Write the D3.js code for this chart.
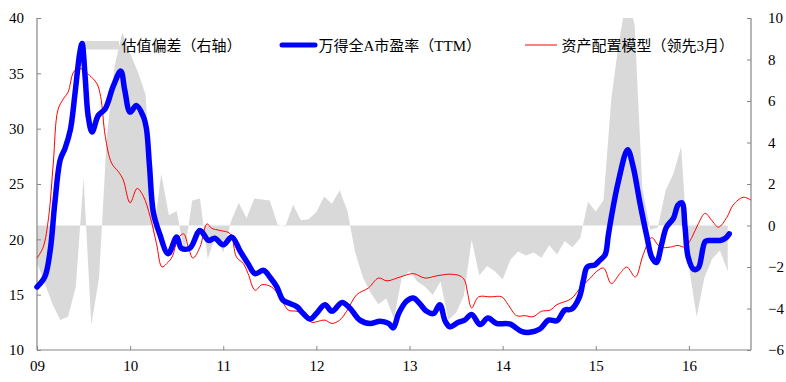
<!DOCTYPE html>
<html>
<head>
<meta charset="utf-8">
<script src="https://cdn.jsdelivr.net/npm/d3@7"></script>
<style>
html,body{margin:0;padding:0;background:#fff;}
svg{display:block;}
.ax text{font-family:"Liberation Serif","Times New Roman",serif !important;font-size:15px !important;fill:#000;}
.lg text{font-family:"Liberation Serif","Noto Sans CJK SC",sans-serif;font-size:15px;fill:#000;}
</style>
</head>
<body>
<svg id="chart" width="786" height="382"></svg>
<script>
// ---- data ----
const yearLabels = ["09","10","11","12","13","14","15","16"];
const leftTicks = [10,15,20,25,30,35,40];
const rightTicks = [-6,-4,-2,0,2,4,6,8,10];
const legendLabels = ["估值偏差（右轴）","万得全A市盈率（TTM）","资产配置模型（领先3月）"];

// monthly valuation deviation (right axis), month 0 = Jan 2009
const biasValues = [
 -1.8,-2.8,-3.8,-4.55,-4.4,-2.95,2.3,-4.8,-2.5,4.3,
 7.7,9.3,8.3,7.4,6.3,-0.5,2.5,0.5,0.7,-1.3,
 1.2,1.3,-1.6,-0.5,-1.3,0.2,1.1,0.35,1.3,1.25,
 1.2,0.05,-0.05,1.0,0.25,0.3,0.65,1.4,1.05,1.7,
 0.7,-1.3,-2.5,-3.25,-3.8,-3.5,-4.5,-2.5,-2.2,-2.7,
 -2.95,-3.35,-2.7,-4.55,-4.2,-3.4,-0.7,-2.4,-1.95,-2.2,
 -2.6,-1.65,-1.25,-1.45,-1.3,-1.55,-0.95,-1.4,-0.75,-1.05,
 -0.6,1.15,0.67,1.23,6.1,8.9,11,9.7,1.8,-0.2,
 -0.1,1.7,2.5,3.8,-2.0,-4.4,-2.5,-1.6,-1.2,-2.2
];

// Wind All A PE (TTM), left axis
const peMonths = [0.0,1.0,1.7,2.3,3.0,3.6,4.3,4.9,5.5,5.8,6.2,6.6,7.1,7.9,8.8,9.8,10.8,11.3,12.0,12.8,13.7,14.1,14.5,15.0,15.8,16.9,18.0,18.6,19.7,21.0,22.1,22.9,24.0,25.1,26.2,27.2,28.1,29.2,30.0,30.9,31.7,32.6,33.5,34.3,35.2,36.0,37.1,38.0,39.3,40.3,41.6,42.9,44.2,45.3,45.9,46.6,47.6,48.5,49.3,50.2,51.1,51.9,52.6,53.2,54.3,55.1,56.0,57.1,58.1,59.2,60.9,62.5,63.5,64.8,65.9,67.0,68.0,68.9,69.9,70.4,70.9,71.9,72.5,73.2,73.6,74.0,74.9,76.1,76.8,77.7,78.6,79.2,79.8,80.5,81.1,82.0,82.6,83.1,83.5,83.9,84.6,85.2,86.1,86.7,88.0,88.7,89.2];
const peValues = [15.7,16.6,19.0,23.3,27.2,28.2,29.9,33.2,36.8,37.7,34.7,31.1,29.7,31.2,31.8,33.8,35.2,33.5,31.5,32.1,31.1,30.0,26.6,22.4,20.5,18.7,20.2,19.2,19.2,20.8,19.9,20.1,19.5,20.2,18.9,17.8,16.9,17.2,16.6,15.7,14.5,14.2,13.9,13.3,12.8,13.3,14.1,13.5,14.3,13.8,12.7,12.4,12.6,12.4,12.0,13.3,14.4,14.7,14.2,13.5,13.3,14.1,12.6,12.1,12.5,12.7,13.2,12.3,12.9,12.4,12.35,11.65,11.6,11.9,12.7,12.65,13.6,13.7,14.8,16.3,17.5,17.7,18.1,18.6,20.3,22.0,25.2,28.1,26.6,23.25,20.2,18.4,17.9,19.6,21.1,21.9,23.1,23.3,21.1,18.4,17.3,17.4,19.8,19.9,19.9,20.1,20.5];

// asset allocation model (lead 3 months), left axis
const modelMonths = [0.0,0.8,1.5,2.1,2.7,3.4,4.0,4.7,5.3,6.0,6.8,7.7,8.2,8.8,9.6,10.5,11.1,12.0,12.9,13.7,14.6,15.4,16.1,16.7,17.4,18.2,18.9,19.5,20.1,21.0,21.9,22.5,23.6,24.9,25.7,26.6,27.2,28.1,29.0,30.2,31.3,32.4,33.5,34.3,35.4,36.0,37.1,38.0,39.0,39.9,41.2,42.7,44.0,45.1,46.8,48.5,50.0,51.5,53.2,54.5,55.1,55.5,56.0,56.9,58.4,59.9,60.7,61.8,62.9,63.9,65.0,66.1,67.0,68.5,69.1,70.0,71.3,72.1,73.0,74.0,75.1,76.0,77.1,78.1,79.2,80.3,81.6,82.6,83.5,84.4,85.2,86.1,86.9,87.8,88.9,89.7,91.0,92.0];
const modelValues = [18.3,19.3,22.0,26.9,31.7,32.7,33.3,35.1,35.45,35.3,34.8,34.1,32.9,29.3,26.9,26.1,25.4,23.3,24.6,23.9,22.0,19.6,17.5,17.8,18.4,20.1,20.5,19.3,18.3,19.3,21.4,21.0,20.8,20.5,18.4,17.8,16.9,15.4,15.9,15.7,14.8,13.6,13.5,13.2,12.5,12.55,12.7,12.4,12.7,13.5,15.0,15.6,16.5,16.25,16.6,16.9,16.5,16.7,16.85,16.7,16.3,15.1,13.8,14.8,14.8,14.8,14.1,13.1,13.1,13.0,13.5,13.6,14.1,14.5,14.8,15.6,16.5,17.1,17.4,16.0,16.9,17.5,16.6,18.6,20.15,19.3,19.3,19.45,19.3,20.2,21.4,22.35,21.75,21.1,22.0,23.1,23.8,23.55];

// ---- layout ----
const L = 37, R = 751, T = 18, B = 350;
const svg = d3.select("#chart");
const axisColor = "#868686";

const x = d3.scaleLinear().domain([0, 92]).range([L, R]);
const yL = d3.scaleLinear().domain([10, 40]).range([B, T]);
const yR = d3.scaleLinear().domain([-6, 10]).range([B, T]);

svg.append("defs").append("clipPath").attr("id","plot")
  .append("rect").attr("x",L).attr("y",T).attr("width",R-L).attr("height",B-T);

// gray deviation area
const biasData = biasValues.map((v,i)=>({m:i,v:v}));
svg.append("path").datum(biasData)
  .attr("clip-path","url(#plot)")
  .attr("fill","#d9d9d9")
  .attr("d", d3.area().x(d=>x(d.m)).y0(yR(0)).y1(d=>yR(d.v)).curve(d3.curveLinear));

// axes
const gL = svg.append("g").attr("class","ax").attr("transform",`translate(${L},0)`)
  .call(d3.axisLeft(yL).tickValues(leftTicks).tickSize(-4).tickPadding(13).tickFormat(d3.format("d")));
const gR = svg.append("g").attr("class","ax").attr("transform",`translate(${R},0)`)
  .call(d3.axisRight(yR).tickValues(rightTicks).tickSize(-4).tickPadding(17).tickFormat(d3.format("d")));
const gB = svg.append("g").attr("class","ax").attr("transform",`translate(0,${B})`)
  .call(d3.axisBottom(x).tickValues(yearLabels.map((d,i)=>i*12)).tickSize(-4).tickPadding(13)
    .tickFormat((d,i)=>yearLabels[i]));
[gL,gR,gB].forEach(g=>{
  g.attr("font-family","Liberation Serif").attr("font-size",15);
  g.select(".domain").attr("stroke",axisColor).attr("stroke-width",1.2);
  g.selectAll(".tick line").attr("stroke",axisColor);
});
gL.select(".domain").attr("d",`M0,${T}V${B}`);
gR.select(".domain").attr("d",`M0,${T}V${B}`);
gB.select(".domain").attr("d",`M${L},0H${R}`);
gB.selectAll(".tick text").attr("dy","0.5em");

// legend
const lg = svg.append("g").attr("class","lg");
lg.append("rect").attr("x",81).attr("y",41).attr("width",38).attr("height",8.5).attr("fill","#d9d9d9");
lg.append("line").attr("x1",282).attr("x2",315).attr("y1",45).attr("y2",45)
  .attr("stroke","#0000ff").attr("stroke-width",5).attr("stroke-linecap","round");
lg.append("line").attr("x1",525).attr("x2",557).attr("y1",45).attr("y2",45)
  .attr("stroke","#ff0000").attr("stroke-width",1);
const lx = [121.5, 318.5, 561.5];
legendLabels.forEach((t,i)=>{
  lg.append("text").attr("x",lx[i]).attr("y",50.5).text(t);
});

// lines
const peData = peMonths.map((m,i)=>({m:m,v:peValues[i]}));
const modelData = modelMonths.map((m,i)=>({m:m,v:modelValues[i]}));
const line = d3.line().x(d=>x(d.m)).y(d=>yL(d.v)).curve(d3.curveCatmullRom.alpha(0.5));

svg.append("path").datum(modelData)
  .attr("fill","none").attr("stroke","#ff0000").attr("stroke-width",1)
  .attr("d", line);
svg.append("path").datum(peData)
  .attr("fill","none").attr("stroke","#0000ff").attr("stroke-width",5.5)
  .attr("stroke-linejoin","round").attr("stroke-linecap","round")
  .attr("d", line);
</script>
</body>
</html>
